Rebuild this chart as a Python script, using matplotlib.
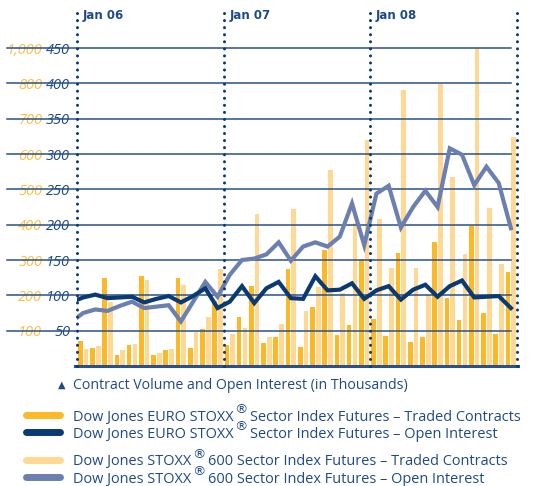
"""Sector index futures: traded contracts and open interest, 2006-2008."""

import numpy as np
import matplotlib.pyplot as plt
from matplotlib.lines import Line2D

W, H = 545, 486

# monthly values, Jan 06 .. Dec 08 (thousands)
months = [f"{m} {y}" for y in ("06", "07", "08") for m in
          ("Jan", "Feb", "Mar", "Apr", "May", "Jun", "Jul", "Aug", "Sep", "Oct", "Nov", "Dec")]
year_labels = ["Jan 06", "Jan 07", "Jan 08"]

euro_traded = [71, 52, 250, 31, 60, 255, 30, 44, 250, 50, 106, 185,
               59, 138, 226, 66, 81, 274, 55, 166, 328, 88, 116, 302,
               132, 85, 319, 69, 83, 352, 192, 130, 396, 149, 90, 265]
stoxx600_traded = [47, 57, 182, 46, 62, 243, 38, 48, 229, 97, 139, 274,
                   90, 108, 429, 83, 119, 444, 156, 224, 555, 206, 406, 640,
                   416, 276, 781, 278, 201, 797, 536, 317, 908, 446, 289, 647]

# open interest, first value is Dec 05 (line enters from the left edge)
euro_oi = [90, 97, 101, 96, 97, 98, 90, 95, 99, 90, 99, 110, 82,
           91, 113, 89, 110, 119, 96, 95, 127, 107, 108, 117, 95,
           107, 113, 94, 108, 115, 98, 113, 121, 97, 98, 99, 82]
stoxx600_oi = [62, 75, 80, 78, 85, 91, 82, 84, 86, 63, 91, 119, 98,
               129, 150, 152, 158, 175, 149, 169, 175, 169, 183, 230, 171,
               244, 255, 196, 225, 248, 225, 308, 299, 256, 282, 259, 195]

vol_ticks = [100, 200, 300, 400, 500, 600, 700, 800, 900]
vol_labels = ["100", "200", "300", "400", "500", "600", "700", "800", "1,000"]
oi_ticks = [50, 100, 150, 200, 250, 300, 350, 400, 450]

C_EURO = "#fdb827"
C_600 = "#ffd994"
C_EURO_OI = "#0a3a73"
C_600_OI = "#6b7fb0"
C_TEXT = "#1f4a87"
C_GRID = "#2a518c"

fig = plt.figure(figsize=(W / 100, H / 100), dpi=100)
ax = fig.add_axes([77 / W, 120 / H, 440 / W, 318 / H])
ax2 = ax.twinx()

x = np.arange(len(months))
ax.bar(x - 0.235, euro_traded, width=0.38, color=C_EURO, zorder=2)
ax.bar(x + 0.235, stoxx600_traded, width=0.38, color=C_600, zorder=2)
ax.set_ylim(0, 900)
ax.set_xlim(-0.5, len(months) - 0.5)

xo = np.arange(-1, len(months))
ax2.plot(xo, stoxx600_oi, color=C_600_OI, lw=3, solid_joinstyle="miter", zorder=3)
ax2.plot(xo, euro_oi, color=C_EURO_OI, lw=3, solid_joinstyle="miter", zorder=4)
ax2.set_ylim(0, 450)
ax2.set_xlim(-0.5, len(months) - 0.5)

# grid lines run out under the tick labels
for t in oi_ticks:
    ax2.plot([-0.159, 0.986], [t / 450, t / 450], transform=ax2.transAxes,
             color=C_GRID, lw=1.1, clip_on=False, zorder=1)
ax2.plot([-0.005, 1.003], [0, 0], transform=ax2.transAxes, color=C_GRID,
         lw=2.2, clip_on=False, zorder=5)

# year separators
sep_style = dict(color=C_EURO_OI, lw=2.2, ls=(0, (0.01, 2.3)), dash_capstyle="round",
                 clip_on=False, zorder=6, transform=ax2.get_xaxis_transform())
for i, lab in enumerate(year_labels):
    xpos = i * 12 - 0.5
    ax2.plot([xpos, xpos], [0, 1.113], **sep_style)
    ax2.text(xpos + 0.45, 1.101, lab, transform=ax2.get_xaxis_transform(),
             color=C_TEXT, fontsize=8.5, fontweight="bold", va="center", ha="left")
ax2.plot([len(months) - 0.5] * 2, [0, 1.113], **sep_style)

for a in (ax, ax2):
    for s in a.spines.values():
        s.set_visible(False)
    a.set_xticks([])

ax.set_yticks(vol_ticks, vol_labels)
ax.tick_params(axis="y", length=0, pad=25, labelcolor="#fdbf3a", labelsize=10.5)
ax2.yaxis.set_ticks_position("left")
ax2.set_yticks(oi_ticks)
ax2.tick_params(axis="y", length=0, pad=5, labelcolor=C_TEXT, labelsize=10.5,
                left=True, labelleft=True, right=False, labelright=False)
for lab in ax.get_yticklabels() + ax2.get_yticklabels():
    lab.set_fontstyle("italic")
    lab.set_family("Open Sans")

# legend
fig.text(58 / W, 1 - 385 / H, "▲", color=C_TEXT, fontsize=7, va="center")
fig.text(73 / W, 1 - 385 / H, "Contract Volume and Open Interest (in Thousands)",
         color=C_TEXT, fontsize=10.2, family="Open Sans", va="center")

entries = [
    (C_EURO, "Dow Jones EURO STOXX", "Sector Index Futures – Traded Contracts", 420.5),
    (C_EURO_OI, "Dow Jones EURO STOXX", "Sector Index Futures – Open Interest", 437.5),
    (C_600, "Dow Jones STOXX", "600 Sector Index Futures – Traded Contracts", 465),
    (C_600_OI, "Dow Jones STOXX", "600 Sector Index Futures – Open Interest", 482.5),
]
renderer = fig.canvas.get_renderer()
for color, head, tail, base_px in entries:
    yb = 1 - base_px / H
    yc = 1 - (base_px - 5.5) / H
    fig.add_artist(Line2D([26 / W, 60 / W], [yc, yc], color=color, lw=5,
                          solid_capstyle="round"))
    t1 = fig.text(73 / W, yb, head, color=C_TEXT, fontsize=10.45,
                  family="Open Sans", va="baseline")
    x1 = t1.get_window_extent(renderer).x1
    t2 = fig.text((x1 + 0.5) / W, yb + 7 / H, "®", color=C_TEXT, fontsize=9.5,
                  family="DejaVu Sans", va="baseline")
    x2 = t2.get_window_extent(renderer).x1
    fig.text((x2 + 3) / W, yb, tail, color=C_TEXT, fontsize=10.45,
             family="Open Sans", va="baseline")

fig.savefig("out.png", dpi=100)
